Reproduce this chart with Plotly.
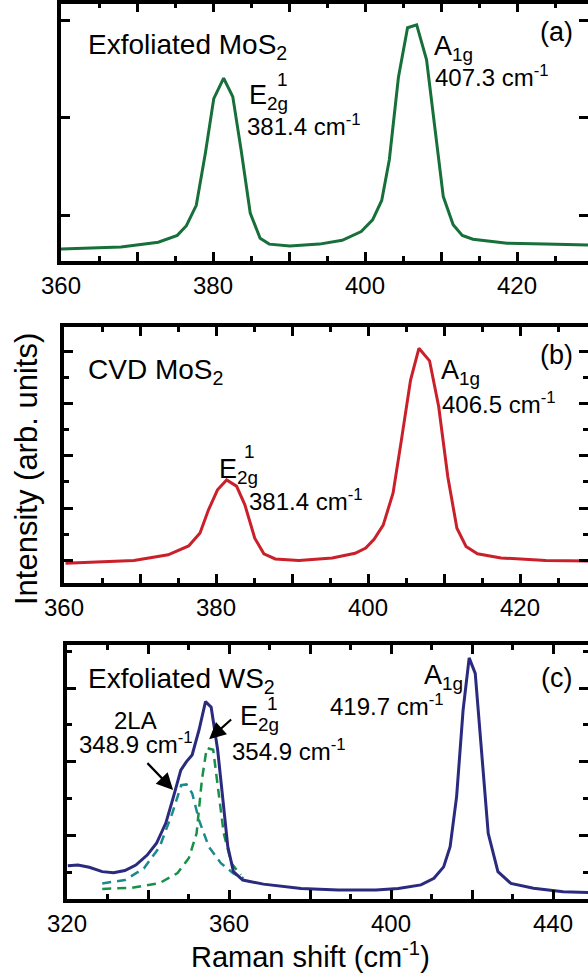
import plotly.graph_objects as go

# ---------------- data ----------------
# (a) Exfoliated MoS2
a_x = [360.0, 367.9, 372.8, 375.3, 376.5, 377.8, 379.0, 380.1, 381.4, 382.6, 383.7, 384.9,
       386.2, 387.4, 390.1, 394.0, 397.0, 399.5, 401.0, 402.2, 403.2, 404.4, 405.6, 406.8,
       408.1, 409.3, 410.3, 411.6, 412.8, 414.2, 418.7, 423.7, 429.5]
a_y = [-0.35, -0.33, -0.28, -0.21, -0.11, 0.10, 0.64, 1.20, 1.41, 1.22, 0.67, 0.02,
       -0.24, -0.30, -0.32, -0.30, -0.26, -0.17, -0.05, 0.15, 0.57, 1.42, 1.93, 1.96,
       1.60, 0.85, 0.19, -0.10, -0.21, -0.25, -0.29, -0.30, -0.31]

# (b) CVD MoS2
b_x = [360.2, 369.2, 373.7, 376.4, 377.9, 379.0, 380.2, 381.4, 382.7, 383.8, 385.1, 386.3,
       387.8, 390.9, 395.3, 398.3, 399.7, 400.8, 402.0, 403.3, 404.4, 405.6, 406.7, 408.1,
       409.3, 410.5, 411.7, 412.9, 414.4, 417.5, 423.4, 429.3]
b_y = [-0.06, -0.01, 0.10, 0.27, 0.52, 0.96, 1.35, 1.54, 1.42, 1.06, 0.42, 0.12,
       0.02, -0.01, 0.04, 0.13, 0.23, 0.40, 0.67, 1.29, 2.31, 3.46, 4.07, 3.83,
       2.95, 1.60, 0.61, 0.26, 0.12, 0.04, -0.01, -0.02]

# (c) Exfoliated WS2 (measured)
c_x = [320.2, 322.7, 325.5, 328.7, 331.5, 334.3, 337.0, 339.8, 342.1, 344.4, 346.3, 348.1,
       349.5, 350.9, 352.6, 354.2, 355.6, 357.2, 358.5, 359.7, 361.1, 363.4, 368.5, 377.8,
       387.0, 396.3, 401.8, 407.4, 410.6, 413.0, 414.6, 416.2, 417.8, 419.3, 420.8, 422.4,
       424.0, 426.4, 429.6, 435.2, 442.5, 448.9]
c_y = [0.17, 0.19, 0.13, 0.01, -0.02, 0.04, 0.19, 0.46, 0.78, 1.33, 2.05, 2.77,
       3.00, 3.18, 3.86, 4.63, 4.48, 3.32, 1.96, 0.69, 0.01, -0.22, -0.33, -0.45,
       -0.49, -0.49, -0.45, -0.35, -0.17, 0.14, 0.69, 2.05, 4.40, 5.82, 5.40, 3.22,
       1.05, 0.01, -0.31, -0.44, -0.54, -0.56]

# (c) fitted components
la_x = [328.7, 334.3, 339.0, 342.9, 346.0, 348.2, 349.5, 350.9, 352.6, 355.0, 358.0, 361.0, 363.6]
la_y = [-0.31, -0.22, 0.10, 0.69, 1.60, 2.36, 2.38, 2.14, 1.41, 0.69, 0.24, -0.03, -0.17]
e_x = [328.7, 336.0, 342.9, 347.3, 350.1, 352.0, 353.3, 354.5, 356.1, 357.2, 358.7, 360.6, 362.9]
e_y = [-0.46, -0.43, -0.30, -0.03, 0.38, 1.05, 2.50, 3.37, 3.32, 2.31, 1.05, 0.24, -0.08]

ab_tickvals = [360, 370, 380, 390, 400, 410, 420, 430]
ab_ticktext = ["360", "", "380", "", "400", "", "420", ""]
c_tickvals = [320, 340, 360, 380, 400, 420, 440]
c_ticktext = ["320", "", "360", "", "400", "", "440"]

# ---------------- figure ----------------
W, H = 588, 976
FONT = "Liberation Sans, Arial, Helvetica, sans-serif"
fig = go.Figure()

fig.add_trace(go.Scatter(x=a_x, y=a_y, mode="lines", line=dict(color="#17703a", width=3),
                         xaxis="x", yaxis="y", showlegend=False))
fig.add_trace(go.Scatter(x=b_x, y=b_y, mode="lines", line=dict(color="#c9202b", width=3),
                         xaxis="x2", yaxis="y2", showlegend=False))
fig.add_trace(go.Scatter(x=la_x, y=la_y, mode="lines",
                         line=dict(color="#1b8a8c", width=2.5, dash="9px,6px"),
                         xaxis="x3", yaxis="y3", showlegend=False))
fig.add_trace(go.Scatter(x=e_x, y=e_y, mode="lines",
                         line=dict(color="#179048", width=2.5, dash="9px,6px"),
                         xaxis="x3", yaxis="y3", showlegend=False))
fig.add_trace(go.Scatter(x=c_x, y=c_y, mode="lines", line=dict(color="#2a2a7e", width=3),
                         xaxis="x3", yaxis="y3", showlegend=False))

def px_dom(l, r):
    return [l / W, r / W]

def py_dom(top, bottom):
    return [1 - bottom / H, 1 - top / H]

axis_common = dict(showline=True, linecolor="black", linewidth=3.5, mirror="ticks",
                   ticks="inside", tickcolor="black", tickwidth=3, showgrid=False,
                   zeroline=False, automargin=False,
                   tickfont=dict(family=FONT, size=24, color="black"))

fig.update_layout(
    template="none",
    width=W, height=H, margin=dict(l=0, r=0, t=0, b=0, pad=0), autosize=False,
    paper_bgcolor="white", plot_bgcolor="white",
    font=dict(family=FONT, color="black"),
    xaxis=dict(domain=px_dom(61, 588), range=[360, 360 + 527 / 7.6], anchor="y",
               tickmode="array", tickvals=ab_tickvals, ticktext=ab_ticktext, ticklen=9,
               minor=dict(dtick=5, tick0=360, ticklen=5, tickwidth=3, tickcolor="black", ticks="inside"),
               **axis_common),
    yaxis=dict(domain=py_dom(3.5, 261), range=[-0.474, 2.18], anchor="x",
               tickmode="array", tickvals=[0, 1, 2], ticklen=9, showticklabels=False,
               **axis_common),
    xaxis2=dict(domain=px_dom(64, 588), range=[360, 360 + 524 / 7.6], anchor="y2",
                tickmode="array", tickvals=ab_tickvals, ticktext=ab_ticktext, ticklen=9,
                minor=dict(dtick=5, tick0=360, ticklen=5, tickwidth=3, tickcolor="black", ticks="inside"),
                **axis_common),
    yaxis2=dict(domain=py_dom(327, 583), range=[-0.442, 4.48], anchor="x2",
                tickmode="array", tickvals=[0, 1, 2, 3, 4], ticklen=9, showticklabels=False,
                minor=dict(dtick=0.5, tick0=0, ticklen=5, tickwidth=3, tickcolor="black", ticks="inside"),
                **axis_common),
    xaxis3=dict(domain=px_dom(67, 588), range=[320, 320 + 521 / 4.05], anchor="y3",
                tickmode="array", tickvals=c_tickvals, ticktext=c_ticktext, ticklen=9,
                minor=dict(dtick=10, tick0=320, ticklen=5, tickwidth=3, tickcolor="black", ticks="inside"),
                **axis_common),
    yaxis3=dict(domain=py_dom(645, 899), range=[-0.734, 6.17], anchor="x3",
                tickmode="array", tickvals=[1, 3, 5], ticklen=9, showticklabels=False,
                minor=dict(dtick=1, tick0=0, ticklen=5, tickwidth=3, tickcolor="black", ticks="inside"),
                **axis_common),
)

ann = []

def txt(text, x, y, ax_id, size, xanchor="left", yanchor="middle"):
    xr = "x" if ax_id == 1 else f"x{ax_id}"
    yr = "y" if ax_id == 1 else f"y{ax_id}"
    ann.append(dict(text=text, x=x, y=y, xref=xr, yref=yr, showarrow=False,
                    xanchor=xanchor, yanchor=yanchor,
                    font=dict(family=FONT, size=size, color="black")))

# panel (a)
txt("Exfoliated MoS<sub>2</sub>", 363.3, 1.74, 1, 28)
txt("(a)", 427.6, 1.89, 1, 27, xanchor="right")
txt("E<sub>2g</sub>", 384.5, 1.22, 1, 27)
txt("1", 388.2, 1.40, 1, 19)
txt("381.4 cm<sup>-1</sup>", 384.2, 0.93, 1, 24)
txt("A<sub>1g</sub>", 408.8, 1.72, 1, 27)
txt("407.3 cm<sup>-1</sup>", 409.0, 1.43, 1, 24)

# panel (b)
txt("CVD MoS<sub>2</sub>", 362.9, 3.62, 2, 28)
txt("(b)", 427.2, 3.94, 2, 27, xanchor="right")
txt("E<sub>2g</sub>", 380.1, 1.72, 2, 27)
txt("1", 383.4, 2.08, 2, 19)
txt("381.4 cm<sup>-1</sup>", 384.1, 1.15, 2, 24)
txt("A<sub>1g</sub>", 409.3, 3.62, 2, 27)
txt("406.5 cm<sup>-1</sup>", 409.5, 3.02, 2, 24)

# panel (c)
txt("Exfoliated WS<sub>2</sub>", 324.7, 5.20, 3, 28)
txt("(c)", 445.3, 5.27, 3, 27, xanchor="right")
txt("A<sub>1g</sub>", 407.7, 5.30, 3, 27)
txt("419.7 cm<sup>-1</sup>", 384.4, 4.54, 3, 24)
txt("2LA", 336.8, 4.13, 3, 24, xanchor="center")
txt("348.9 cm<sup>-1</sup>", 322.5, 3.51, 3, 24)
txt("E<sub>2g</sub>", 362.2, 4.18, 3, 27)
txt("1", 368.9, 4.59, 3, 19)
txt("354.9 cm<sup>-1</sup>", 360.2, 3.32, 3, 24)

# arrows in (c)
for (tx, ty, hx, hy) in [(339.5, 3.00, 346.2, 2.23), (360.9, 4.18, 355.1, 3.61)]:
    ann.append(dict(x=hx, y=hy, ax=tx, ay=ty, xref="x3", yref="y3", axref="x3", ayref="y3",
                    text="", showarrow=True, arrowhead=2, arrowsize=1.5, arrowwidth=2.2,
                    arrowcolor="black"))

# axis titles
ann.append(dict(text="Intensity (arb. units)", x=26 / W, y=1 - 469 / H, xref="paper", yref="paper",
                showarrow=False, textangle=-90, xanchor="center", yanchor="middle",
                font=dict(family=FONT, size=31, color="black")))
ann.append(dict(text="Raman shift (cm<sup>-1</sup>)", x=310 / W, y=1 - 955 / H, xref="paper",
                yref="paper", showarrow=False, xanchor="center", yanchor="middle",
                font=dict(family=FONT, size=29, color="black")))

fig.update_layout(annotations=ann)
fig.write_html("out.html")
